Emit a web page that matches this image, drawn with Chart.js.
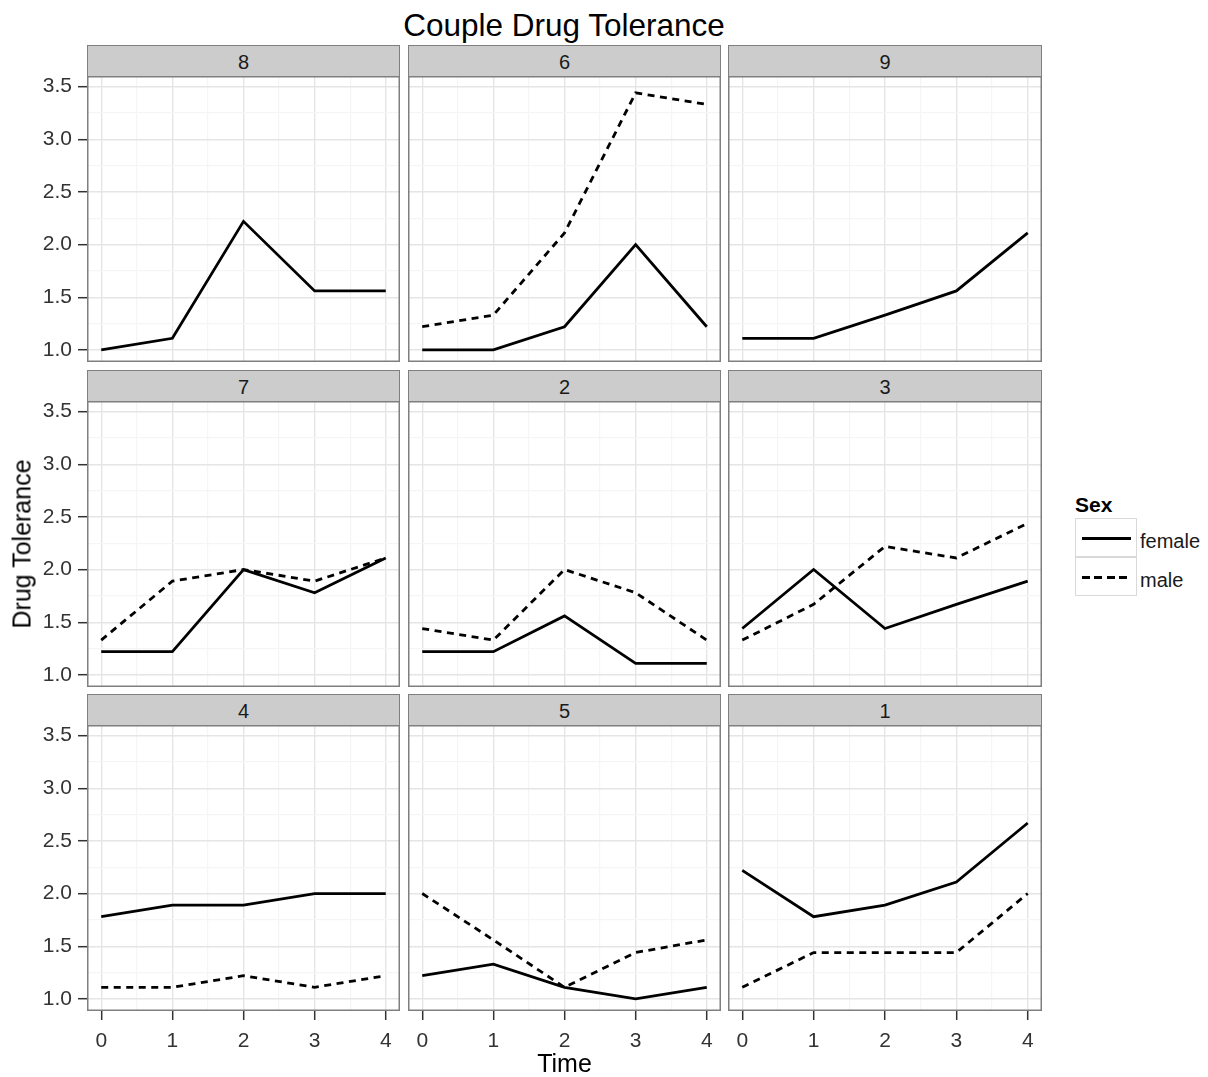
<!DOCTYPE html>
<html>
<head>
<meta charset="utf-8">
<script src="https://cdn.jsdelivr.net/npm/chart.js@4.4.1/dist/chart.umd.min.js"></script>
<style>
  body { margin: 0; background: #fff; font-family: 'Liberation Sans', Arial, sans-serif; }
  #wrap { position: relative; width: 1208px; height: 1077px; overflow: hidden; }
  canvas { position: absolute; }
  .strip { position: absolute; box-sizing: border-box; background: #cccccc; border: 1.5px solid #7f7f7f;
           font-size: 20px; color: #1a1a1a; text-align: center; line-height: 33px; }
  .txt { position: absolute; color: #000; white-space: nowrap; }
  .key { position: absolute; box-sizing: border-box; width: 62px; height: 39px; background: #fff; border: 1px solid #d9d9d9; }
  .keyline { position: absolute; left: 6px; top: 18px; width: 49px; height: 3px; }
</style>
</head>
<body>
<div id="wrap"></div>
<script>
// facet order (row by row)
const panelIds = ['8', '6', '9', '7', '2', '3', '4', '5', '1'];
const times = [0, 1, 2, 3, 4];

// Drug Tolerance per couple, female and male
const female8 = [1.00, 1.11, 2.22, 1.56, 1.56];
const male8   = null;
const female6 = [1.00, 1.00, 1.22, 2.00, 1.22];
const male6   = [1.22, 1.33, 2.11, 3.44, 3.33];
const female9 = [1.11, 1.11, 1.33, 1.56, 2.11];
const male9   = null;
const female7 = [1.22, 1.22, 2.00, 1.78, 2.11];
const male7   = [1.33, 1.89, 2.00, 1.89, 2.11];
const female2 = [1.22, 1.22, 1.56, 1.11, 1.11];
const male2   = [1.44, 1.33, 2.00, 1.78, 1.33];
const female3 = [1.44, 2.00, 1.44, 1.67, 1.89];
const male3   = [1.33, 1.67, 2.22, 2.11, 2.44];
const female4 = [1.78, 1.89, 1.89, 2.00, 2.00];
const male4   = [1.11, 1.11, 1.22, 1.11, 1.22];
const female5 = [1.22, 1.33, 1.11, 1.00, 1.11];
const male5   = [2.00, 1.56, 1.11, 1.44, 1.56];
const female1 = [2.22, 1.78, 1.89, 2.11, 2.67];
const male1   = [1.11, 1.44, 1.44, 1.44, 2.00];

const femaleSeries = [female8, female6, female9, female7, female2, female3, female4, female5, female1];
const maleSeries   = [male8, male6, male9, male7, male2, male3, male4, male5, male1];

// tick labels
const xMajor = [0, 1, 2, 3, 4];
const xMinor = [0.5, 1.5, 2.5, 3.5];
const yMajor = [1.0, 1.5, 2.0, 2.5, 3.0, 3.5];
const yMinor = [1.25, 1.75, 2.25, 2.75, 3.25];

const title = 'Couple Drug Tolerance';
const xTitle = 'Time';
const yTitle = 'Drug Tolerance';
const legendTitle = 'Sex';
const legendLabels = ['female', 'male'];

// layout
const colLeft = [87, 408, 728];
const colW = [313, 313, 314];
const rowTop = [76, 401, 725];
const plotH = 286;
const stripH = 31;
const yAxisW = 57;
const xAxisH = 42;
const font = { family: "'Liberation Sans', Arial, sans-serif", size: 21 };
const dash = [7, 5.5];

const wrap = document.getElementById('wrap');

function addText(txt, css) {
  const d = document.createElement('div');
  d.className = 'txt';
  d.textContent = txt;
  Object.assign(d.style, css);
  wrap.appendChild(d);
  return d;
}

// panel border drawn on top, like theme_bw
const frame = {
  id: 'frame',
  afterDraw(chart) {
    const a = chart.chartArea, ctx = chart.ctx;
    ctx.save();
    ctx.strokeStyle = '#7f7f7f';
    ctx.lineWidth = 1.5;
    ctx.strokeRect(a.left + 0.75, a.top + 0.75, a.right - a.left - 1.5, a.bottom - a.top - 1.5);
    ctx.restore();
  }
};

const isIn = (arr, v) => arr.some(m => Math.abs(m - v) < 1e-6);

function makePanel(i) {
  const row = Math.floor(i / 3), col = i % 3;
  const showY = col === 0, showX = row === 2;
  const w = colW[col] + (showY ? yAxisW : 0);
  const h = plotH + (showX ? xAxisH : 0);

  const cv = document.createElement('canvas');
  cv.width = w; cv.height = h;
  cv.style.left = (colLeft[col] - (showY ? yAxisW : 0)) + 'px';
  cv.style.top = rowTop[row] + 'px';
  cv.style.width = w + 'px'; cv.style.height = h + 'px';
  wrap.appendChild(cv);

  const strip = document.createElement('div');
  strip.className = 'strip';
  strip.textContent = panelIds[i];
  Object.assign(strip.style, { left: colLeft[col] + 'px', top: (rowTop[row] - stripH) + 'px',
    width: colW[col] + 'px', height: (stripH + 1) + 'px' });
  wrap.appendChild(strip);

  const datasets = [{
    label: 'female',
    data: times.map((t, k) => ({ x: t, y: femaleSeries[i][k] })),
    borderColor: '#000', borderWidth: 2.8, pointRadius: 0, tension: 0, fill: false
  }];
  if (maleSeries[i]) {
    datasets.push({
      label: 'male',
      data: times.map((t, k) => ({ x: t, y: maleSeries[i][k] })),
      borderColor: '#000', borderWidth: 2.8, borderDash: dash, pointRadius: 0, tension: 0, fill: false
    });
  }

  new Chart(cv, {
    type: 'line',
    data: { datasets },
    options: {
      responsive: false,
      animation: false,
      events: [],
      layout: { padding: 0 },
      plugins: { legend: { display: false }, tooltip: { enabled: false } },
      scales: {
        x: {
          type: 'linear', min: -0.2, max: 4.2,
          afterBuildTicks: ax => { ax.ticks = xMajor.concat(xMinor).sort((a, b) => a - b).map(v => ({ value: v })); },
          afterFit: ax => {
            ax.height = showX ? xAxisH : 0;
            ax.paddingLeft = 0; ax.paddingRight = 0;
          },
          border: { display: false },
          grid: {
            color: c => isIn(xMajor, c.tick.value) ? '#e5e5e5' : '#f5f5f5',
            lineWidth: c => isIn(xMajor, c.tick.value) ? 1.4 : 1.2,
            drawTicks: showX, tickLength: 9,
            tickColor: c => isIn(xMajor, c.tick.value) ? '#333' : 'rgba(0,0,0,0)',
            tickWidth: 1.5
          },
          ticks: {
            display: showX, autoSkip: false, maxRotation: 0, padding: 9,
            font, color: '#333',
            callback: v => isIn(xMajor, v) ? String(v) : ''
          }
        },
        y: {
          type: 'linear', min: 0.885, max: 3.6,
          afterBuildTicks: ax => { ax.ticks = yMajor.concat(yMinor).sort((a, b) => a - b).map(v => ({ value: v })); },
          afterFit: ax => {
            ax.width = showY ? yAxisW : 0;
            ax.paddingTop = 0; ax.paddingBottom = 0;
          },
          border: { display: false },
          grid: {
            color: c => isIn(yMajor, c.tick.value) ? '#e5e5e5' : '#f5f5f5',
            lineWidth: c => isIn(yMajor, c.tick.value) ? 1.4 : 1.2,
            drawTicks: showY, tickLength: 9,
            tickColor: c => isIn(yMajor, c.tick.value) ? '#333' : 'rgba(0,0,0,0)',
            tickWidth: 1.5
          },
          ticks: {
            display: showY, autoSkip: false, padding: 6,
            font, color: '#333',
            callback: v => isIn(yMajor, v) ? v.toFixed(1) : ''
          }
        }
      }
    },
    plugins: [frame]
  });
}

for (let i = 0; i < panelIds.length; i++) makePanel(i);

// titles
addText(title, { fontSize: '31.5px', left: '0px', width: '1128px', textAlign: 'center', top: '7px' });
addText(xTitle, { fontSize: '25px', left: '87px', width: '955px', textAlign: 'center', top: '1049px' });
addText(yTitle, { fontSize: '25px', left: '22px', top: '544px', transform: 'translate(-50%, -50%) rotate(-90deg)' });

// legend
addText(legendTitle, { fontSize: '21px', fontWeight: 'bold', left: '1075px', top: '493px' });
legendLabels.forEach((lab, k) => {
  const key = document.createElement('div');
  key.className = 'key';
  key.style.left = '1075px';
  key.style.top = (518 + k * 39) + 'px';
  const ln = document.createElement('div');
  ln.className = 'keyline';
  ln.style.background = k === 0 ? '#000'
    : 'repeating-linear-gradient(to right, #000 0 8px, transparent 8px 12.5px)';
  key.appendChild(ln);
  wrap.appendChild(key);
  addText(lab, { fontSize: '20px', color: '#1a1a1a', left: '1140px', top: (530 + k * 39) + 'px' });
});
</script>
</body>
</html>
